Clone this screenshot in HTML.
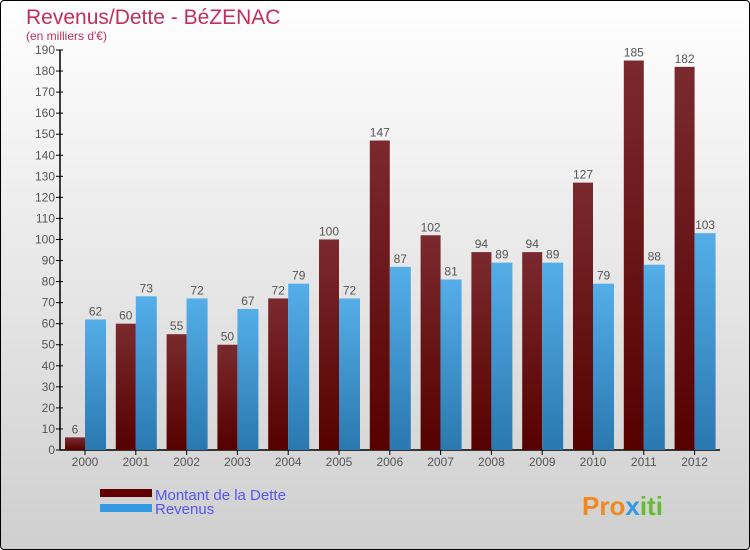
<!DOCTYPE html>
<html><head><meta charset="utf-8"><style>
html,body{margin:0;padding:0}
body{width:750px;height:550px;overflow:hidden;font-family:"Liberation Sans","DejaVu Sans",sans-serif}
#frame{position:absolute;left:0;top:0;width:748px;height:548px;border:1px solid #000;border-radius:4px;background:linear-gradient(#ffffff,#cfcfcf)}
</style></head><body>
<div id="frame"></div>
<svg id="chart" width="750" height="550" style="position:absolute;left:0;top:0;font-family:'Liberation Sans',sans-serif">
<defs>
<linearGradient id="gd" x1="0" y1="0" x2="0" y2="1"><stop offset="0" stop-color="#7a2a2e"/><stop offset="1" stop-color="#560000"/></linearGradient>
<linearGradient id="gr" x1="0" y1="0" x2="0" y2="1"><stop offset="0" stop-color="#55aee8"/><stop offset="1" stop-color="#2a78b0"/></linearGradient>
</defs>
<text x="26" y="24" font-size="21" fill="#c0305a">Revenus/Dette - BéZENAC</text>
<text x="26" y="40" font-size="12" fill="#c0305a">(en milliers d'€)</text>
<g id="axes"></g><g id="bars"></g>
<rect x="100" y="489" width="52" height="8" fill="#600000"/>
<text x="155" y="500" font-size="15" fill="#5555ee">Montant de la Dette</text>
<rect x="100" y="504" width="52" height="8" fill="#3399e0"/>
<text x="155" y="514" font-size="15" fill="#5555ee">Revenus</text>
<text x="582" y="515" font-size="26" font-weight="bold" fill="#f08a20">Pro<tspan fill="#3399e0">x</tspan><tspan fill="#66bb33">iti</tspan></text>
</svg>
<script>
const years=["2000","2001","2002","2003","2004","2005","2006","2007","2008","2009","2010","2011","2012"];
const dette=[6,60,55,50,72,100,147,102,94,94,127,185,182];
const revenus=[62,73,72,67,79,72,87,81,89,89,79,88,103];
const yTicks=[0,10,20,30,40,50,60,70,80,90,100,110,120,130,140,150,160,170,180,190];
const NS="http://www.w3.org/2000/svg";
const y=v=>450-v*400/190;
const x=i=>65+i*50.8;
function mk(t,a,p){const e=document.createElementNS(NS,t);for(const k in a)e.setAttribute(k,a[k]);p.appendChild(e);return e;}
const ax=document.getElementById('axes'),bg=document.getElementById('bars');
let l=mk('line',{x1:60,y1:y(190),x2:60,y2:450,stroke:'#000','stroke-width':1.5},ax);


l=mk('line',{x1:60,y1:450,x2:720,y2:450,stroke:'#000','stroke-width':1.5},ax);


yTicks.forEach(v=>{
 const t=mk('line',{x1:56,y1:y(v),x2:63,y2:y(v),stroke:'#000'},ax);
 
 
 const tx=mk('text',{x:55,y:y(v)+4,'font-size':12,'text-anchor':'end',fill:'#555'},ax);
 tx.textContent=v;
 
 
});
years.forEach((yr,i)=>{
 const x0=x(i);
 const t=mk('line',{x1:x0+20,y1:450,x2:x0+20,y2:455,stroke:'#000'},ax);
 
 
 const lb=mk('text',{x:x0+20,y:466,'font-size':12,'text-anchor':'middle',fill:'#555'},ax);
 lb.textContent=yr;
 
 
 const b1=mk('rect',{x:x0,y:y(dette[i]),width:20,height:450-y(dette[i]),fill:'url(#gd)'},bg);
 
 
 const b2=mk('rect',{x:x0+20,y:y(revenus[i]),width:21,height:450-y(revenus[i]),fill:'url(#gr)'},bg);
 
 
 const v1=mk('text',{x:x0+10,y:y(dette[i])-4,'font-size':12,'text-anchor':'middle',fill:'#555'},bg);
 v1.textContent=dette[i];
 
 
 const v2=mk('text',{x:x0+30.5,y:y(revenus[i])-4,'font-size':12,'text-anchor':'middle',fill:'#555'},bg);
 v2.textContent=revenus[i];
 
 
});
</script>
</body></html>
